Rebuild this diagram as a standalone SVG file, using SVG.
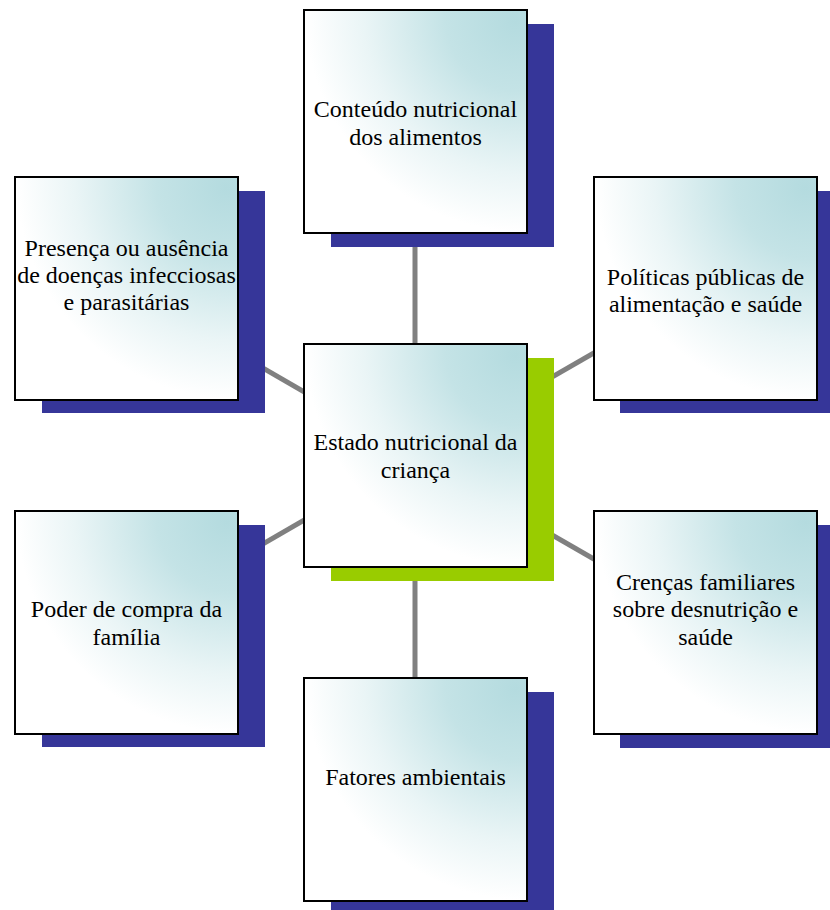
<svg xmlns="http://www.w3.org/2000/svg" width="830" height="910" viewBox="0 0 830 910">
<defs>
<radialGradient id="g" cx="1" cy="0" r="1.1" fx="0.95" fy="0.05">
<stop offset="0" stop-color="#b4dbdf"/>
<stop offset="0.3" stop-color="#c4e3e6"/>
<stop offset="0.65" stop-color="#eaf5f6"/>
<stop offset="0.9" stop-color="#ffffff"/>
</radialGradient>
</defs>
<style>
.sh{fill:#363699}
.shg{fill:#99cc00}
.box{fill:url(#g);stroke:#000;stroke-width:2}
.t{font-family:'Liberation Serif','Times New Roman',Times,serif;font-size:24px;fill:#000;text-anchor:middle}
.c{stroke:#808080;stroke-width:5;fill:none}
</style>
<rect width="830" height="910" fill="#fff"/>
<g id="connectors">
<line class="c" x1="415" y1="456" x2="415" y2="233"/>
<line class="c" x1="415" y1="456" x2="415" y2="678"/>
<line class="c" x1="415" y1="456" x2="126" y2="289"/>
<line class="c" x1="415" y1="456" x2="705" y2="289"/>
<line class="c" x1="415" y1="456" x2="126" y2="623"/>
<line class="c" x1="415" y1="456" x2="705" y2="623"/>
</g>
<g id="n-top">
<rect class="sh" x="331" y="24" width="223" height="223"/>
<rect class="box" x="304" y="10" width="223" height="223"/>
<text class="t" x="415.5" y="117">Conteúdo nutricional</text>
<text class="t" x="415.5" y="145">dos alimentos</text>
</g>
<g id="n-lefttop">
<rect class="sh" x="42" y="191" width="223" height="222"/>
<rect class="box" x="15" y="177" width="223" height="223"/>
<text class="t" x="126.5" y="256">Presença ou ausência</text>
<text class="t" x="126.5" y="283">de doenças infecciosas</text>
<text class="t" x="126.5" y="310">e parasitárias</text>
</g>
<g id="n-righttop">
<rect class="sh" x="620" y="191" width="215" height="222"/>
<rect class="box" x="594" y="177" width="223" height="223"/>
<text class="t" x="705.5" y="285">Políticas públicas de</text>
<text class="t" x="705.5" y="312">alimentação e saúde</text>
</g>
<g id="n-center">
<rect class="shg" x="331" y="358" width="223" height="223"/>
<rect class="box" x="304" y="344" width="223" height="223"/>
<text class="t" x="415.5" y="450">Estado nutricional da</text>
<text class="t" x="415.5" y="478">criança</text>
</g>
<g id="n-leftbottom">
<rect class="sh" x="42" y="525" width="223" height="222"/>
<rect class="box" x="15" y="511" width="223" height="223"/>
<text class="t" x="126.5" y="617">Poder de compra da</text>
<text class="t" x="126.5" y="645">família</text>
</g>
<g id="n-rightbottom">
<rect class="sh" x="620" y="525" width="215" height="223"/>
<rect class="box" x="594" y="511" width="223" height="223"/>
<text class="t" x="705.5" y="590">Crenças familiares</text>
<text class="t" x="705.5" y="617">sobre desnutrição e</text>
<text class="t" x="705.5" y="645">saúde</text>
</g>
<g id="n-bottom">
<rect class="sh" x="331" y="692" width="223" height="223"/>
<rect class="box" x="304" y="678" width="223" height="223"/>
<text class="t" x="415.5" y="785">Fatores ambientais</text>
</g>
</svg>
